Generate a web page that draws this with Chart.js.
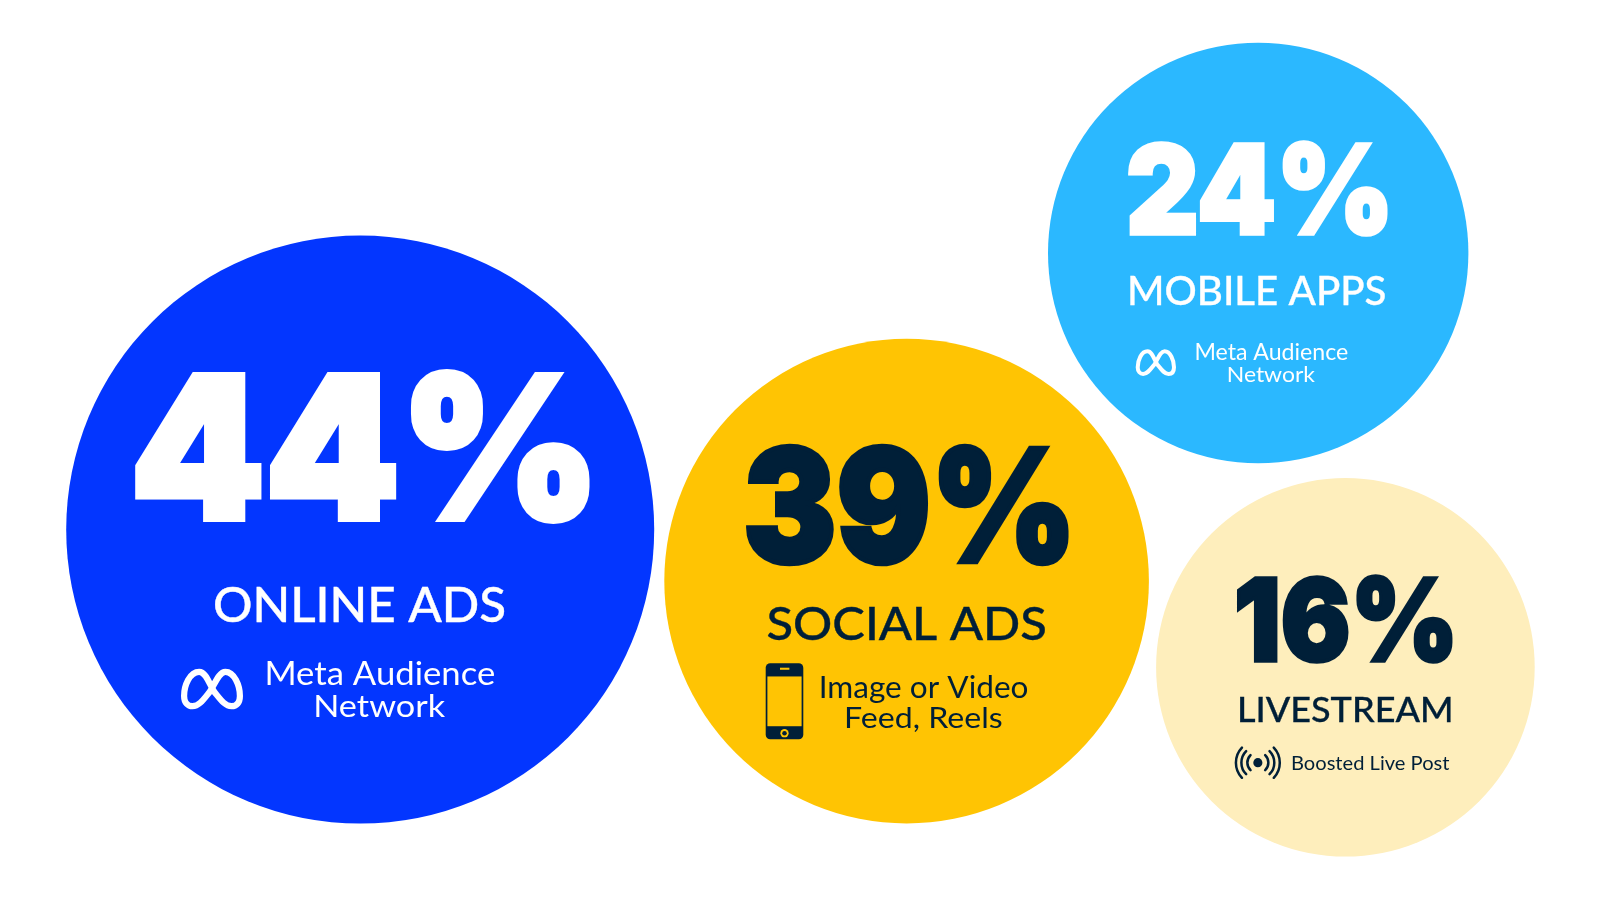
<!DOCTYPE html>
<html>
<head>
<meta charset="utf-8">
<title>Ad placements</title>
<script src="https://cdn.jsdelivr.net/npm/chart.js@4/dist/chart.umd.min.js"></script>
<style>
html,body{margin:0;padding:0;background:#fff;}
#wrap{width:1600px;height:900px;}
canvas{display:block;}
</style>
</head>
<body>
<div id="wrap"><canvas id="c" width="1600" height="900"></canvas></div>
<script>
const categories = ['ONLINE ADS', 'SOCIAL ADS', 'MOBILE APPS', 'LIVESTREAM'];
const percentages = [44, 39, 24, 16];
const bubbleX = [360.2, 906.6, 1258.2, 1345.4];
const bubbleY = [529.6, 581.1, 253, 667.3];
const bubbleR = [294, 242.3, 210.2, 189.3];
const bubbleColors = ['#0336FF', '#FFC403', '#2BB8FF', '#FEEEBC'];
const detailLines = [
  ['Meta Audience', 'Network'],
  ['Image or Video', 'Feed, Reels'],
  ['Meta Audience', 'Network'],
  ['Boosted Live Post']
];
const inkColors = ['#FFFFFF', '#001F38', '#FFFFFF', '#001F38'];

// Layout of annotations, in axis units: [left, right, top, bottom]
const percentBoxes = [[135,590,369.3,524],[745.7,1069,443.3,565.7],[1127.7,1387.7,140,236.7],[1236.7,1452.7,575,664.3]];
const categoryBoxes = [[214.7,504.5,586,622.7],[767.7,1045.3,606,640.7],[1130,1385.3,276,306],[1239.7,1450.7,696.7,722.7]];
const detailBoxes = [
  [[267.5,494,660.7,685.3],[316.3,445.3,694,717.6]],
  [[821.5,1027.3,675.5,703],[847,1001.7,706,731.7]],
  [[1196.5,1347.3,344,360.7],[1228.8,1315,365.6,381.9]],
  [[1292.8,1449.3,755,770]]
];
const iconKinds = ['meta', 'phone', 'meta', 'live'];
const iconBoxes = [[181,243,668.7,709.3],[765.7,803.3,663.3,739.3],[1135.7,1176,349.3,376],[1235,1280.7,746,779.3]];

const PERCENT_FONT = '900 200px Inter, Roboto, sans-serif';
const CATEGORY_FONT = '500 100px Lato, Inter, sans-serif';
const DETAIL_FONT = '400 100px Lato, sans-serif';
const PERCENT_EMBOLDEN = 6;
const CATEGORY_EMBOLDEN = 0.8;

function fitText(ctx, text, font, color, box, sx, sy, embolden) {
  const l = sx(box[0]), r = sx(box[1]), t = sy(box[2]), b = sy(box[3]);
  const e = embolden || 0;
  ctx.save();
  ctx.font = font;
  ctx.fillStyle = color;
  ctx.strokeStyle = color;
  ctx.textAlign = 'left';
  ctx.textBaseline = 'alphabetic';
  ctx.lineJoin = 'miter';
  ctx.miterLimit = 3;
  const m = ctx.measureText(text);
  const w = m.actualBoundingBoxLeft + m.actualBoundingBoxRight + e;
  const h = m.actualBoundingBoxAscent + m.actualBoundingBoxDescent + e;
  ctx.translate(l, t);
  ctx.scale((r - l) / w, (b - t) / h);
  const px = m.actualBoundingBoxLeft + e / 2, py = m.actualBoundingBoxAscent + e / 2;
  ctx.fillText(text, px, py);
  if (e) {
    ctx.lineWidth = e;
    ctx.strokeText(text, px, py);
  }
  ctx.restore();
}

function drawMeta(ctx, w, h, color) {
  const lw = 0.1 * w, iw = w - lw, ih = h - lw;
  const X = v => lw / 2 + v * iw, Y = v => lw / 2 + v * ih;
  ctx.strokeStyle = color;
  ctx.lineWidth = lw;
  ctx.lineJoin = 'round';
  ctx.beginPath();
  ctx.moveTo(X(.27), Y(0));
  ctx.bezierCurveTo(X(.1), Y(0), X(0), Y(.4), X(0), Y(.7));
  ctx.bezierCurveTo(X(0), Y(.9), X(.07), Y(1), X(.15), Y(1));
  ctx.bezierCurveTo(X(.27), Y(1), X(.35), Y(.8), X(.46), Y(.58));
  ctx.bezierCurveTo(X(.54), Y(.4), X(.62), Y(0), X(.74), Y(0));
  ctx.bezierCurveTo(X(.9), Y(0), X(1), Y(.4), X(1), Y(.7));
  ctx.bezierCurveTo(X(1), Y(.9), X(.94), Y(1), X(.85), Y(1));
  ctx.bezierCurveTo(X(.73), Y(1), X(.65), Y(.8), X(.54), Y(.58));
  ctx.bezierCurveTo(X(.46), Y(.4), X(.4), Y(0), X(.27), Y(0));
  ctx.closePath();
  ctx.stroke();
}

function drawPhone(ctx, w, h, ink, bg) {
  ctx.fillStyle = ink;
  ctx.beginPath();
  ctx.roundRect(0, 0, w, h, w * 0.12);
  ctx.fill();
  ctx.fillStyle = bg;
  ctx.fillRect(w * .045, h * .173, w * .91, h * .655);
  ctx.fillRect(w * .38, h * .058, w * .25, h * .027);
  ctx.beginPath();
  ctx.arc(w * .5, h * .92, w * .11, 0, Math.PI * 2);
  ctx.fill();
  ctx.fillStyle = ink;
  ctx.beginPath();
  ctx.arc(w * .5, h * .92, w * .06, 0, Math.PI * 2);
  ctx.fill();
}

function drawLive(ctx, w, h, ink) {
  const cx = w / 2, cy = h / 2;
  ctx.fillStyle = ink;
  ctx.beginPath();
  ctx.arc(cx, cy, w * .1, 0, Math.PI * 2);
  ctx.fill();
  ctx.strokeStyle = ink;
  ctx.lineWidth = w * .055;
  ctx.lineCap = 'round';
  [[.23, .8], [.36, .78], [.48, .76]].forEach(([rr, span]) => {
    const rad = w * rr;
    [0, Math.PI].forEach(base => {
      ctx.beginPath();
      ctx.arc(cx, cy, rad, base - span, base + span);
      ctx.stroke();
    });
  });
}

const annotate = {
  id: 'annotate',
  afterDatasetsDraw(chart) {
    const ctx = chart.ctx;
    const sx = v => chart.scales.x.getPixelForValue(v);
    const sy = v => chart.scales.y.getPixelForValue(v);
    categories.forEach((name, i) => {
      const ink = inkColors[i];
      fitText(ctx, percentages[i] + '%', PERCENT_FONT, ink, percentBoxes[i], sx, sy, PERCENT_EMBOLDEN);
      fitText(ctx, name, CATEGORY_FONT, ink, categoryBoxes[i], sx, sy, CATEGORY_EMBOLDEN);
      detailLines[i].forEach((line, j) => fitText(ctx, line, DETAIL_FONT, ink, detailBoxes[i][j], sx, sy));
      const b = iconBoxes[i];
      const w = sx(b[1]) - sx(b[0]), h = sy(b[3]) - sy(b[2]);
      ctx.save();
      ctx.translate(sx(b[0]), sy(b[2]));
      if (iconKinds[i] === 'meta') drawMeta(ctx, w, h, ink);
      if (iconKinds[i] === 'phone') drawPhone(ctx, w, h, ink, bubbleColors[i]);
      if (iconKinds[i] === 'live') drawLive(ctx, w, h, ink);
      ctx.restore();
    });
  }
};

new Chart(document.getElementById('c'), {
  type: 'bubble',
  data: {
    datasets: [{
      label: 'Share of ad placements',
      data: categories.map((c, i) => ({ x: bubbleX[i], y: bubbleY[i], r: bubbleR[i] })),
      backgroundColor: bubbleColors,
      hoverBackgroundColor: bubbleColors,
      borderWidth: 0,
      hoverBorderWidth: 0,
      clip: false
    }]
  },
  options: {
    responsive: false,
    animation: false,
    layout: { padding: 0, autoPadding: false },
    plugins: { legend: { display: false }, tooltip: { enabled: false } },
    scales: {
      x: { type: 'linear', min: 0, max: 1600, display: false },
      y: { type: 'linear', min: 0, max: 900, reverse: true, display: false }
    }
  },
  plugins: [annotate]
});
</script>
</body>
</html>
